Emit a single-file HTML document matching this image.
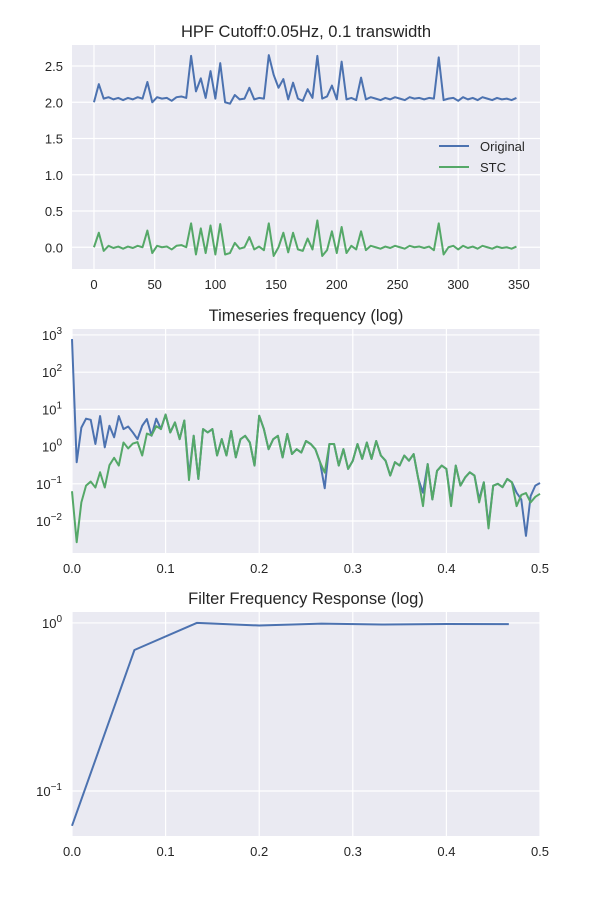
<!DOCTYPE html>
<html><head><meta charset="utf-8"><style>
body{margin:0;background:#fff}
svg{display:block;font-family:"Liberation Sans",sans-serif}
</style></head><body>
<svg id="fig" width="600" height="900" xmlns="http://www.w3.org/2000/svg"></svg>
<script>
// ---- chart 1 data: time series (sample index step 4) ----
const tsStep = 4;
const originalSeries = [2.0,2.25,2.05,2.07,2.04,2.06,2.03,2.06,2.04,2.07,2.05,2.28,2.0,2.07,2.05,2.06,2.02,2.07,2.08,2.06,2.64,2.15,2.33,2.06,2.43,2.05,2.54,2.0,1.98,2.1,2.04,2.05,2.2,2.04,2.06,2.05,2.65,2.38,2.2,2.32,2.04,2.27,2.05,2.02,2.18,2.06,2.64,2.05,2.08,2.23,2.04,2.56,2.04,2.06,2.03,2.34,2.04,2.07,2.05,2.03,2.06,2.04,2.07,2.05,2.03,2.07,2.05,2.06,2.04,2.06,2.05,2.62,2.03,2.05,2.06,2.02,2.07,2.04,2.06,2.03,2.07,2.05,2.03,2.06,2.04,2.05,2.03,2.06];
const stcSeries = [0.0,0.2,-0.05,0.02,-0.01,0.01,-0.02,0.01,-0.01,0.02,0.0,0.23,-0.08,0.02,0.0,0.01,-0.03,0.02,0.03,0.0,0.33,-0.1,0.26,-0.08,0.3,-0.1,0.32,-0.1,-0.08,0.06,-0.02,0.0,0.14,-0.03,0.01,-0.04,0.33,-0.12,0.0,0.2,-0.07,0.2,-0.03,-0.05,0.12,-0.03,0.37,-0.12,-0.04,0.22,-0.08,0.28,-0.08,0.02,-0.03,0.22,-0.04,0.02,0.0,-0.02,0.01,-0.01,0.02,0.0,-0.02,0.02,0.0,0.01,-0.01,0.01,-0.04,0.33,-0.1,0.0,0.02,-0.03,0.02,-0.01,0.01,-0.02,0.02,0.0,-0.02,0.01,-0.01,0.0,-0.02,0.01];
const ts_xticks = [0,50,100,150,200,250,300,350];
const ts_yticks = [0.0,0.5,1.0,1.5,2.0,2.5];
const ts_ytickLabels = ["0.0","0.5","1.0","1.5","2.0","2.5"];
// ---- chart 2 data: frequency spectra (log10 of magnitude), step 0.005 ----
const freqStep = 0.005;
const origSpecLog = [2.89,-0.42,0.51,0.75,0.72,0.07,0.82,-0.02,0.56,0.25,0.82,0.47,0.54,0.38,0.2,0.56,0.74,0.29,0.75,0.47,0.86,0.38,0.65,0.2,0.7,-0.78,0.29,-0.87,0.47,0.38,0.47,-0.24,0.2,-0.24,0.42,-0.29,0.2,0.29,0.11,-0.51,0.83,0.47,-0.07,0.2,0.29,-0.29,0.34,-0.2,-0.07,-0.16,0.15,0.07,-0.07,-0.42,-1.12,0.07,0.07,-0.51,-0.07,-0.6,-0.38,0.07,-0.33,0.11,-0.33,0.15,-0.24,-0.38,-0.78,-0.42,-0.51,-0.24,-0.38,-0.2,-0.87,-1.24,-0.47,-1.42,-0.65,-0.51,-0.6,-1.5,-0.51,-1.05,-0.83,-0.69,-0.78,-1.42,-0.96,-2.13,-1.05,-1.0,-1.09,-0.87,-0.96,-1.24,-1.42,-2.4,-1.33,-1.05,-0.98];
const stcSpecLog = [-1.2,-2.57,-1.5,-1.05,-0.94,-1.1,-0.69,-1.1,-0.5,-0.3,-0.51,0.11,-0.05,0.08,0.12,-0.24,0.35,0.3,0.55,0.47,0.86,0.38,0.65,0.2,0.7,-0.9,0.29,-0.87,0.47,0.38,0.47,-0.24,0.2,-0.24,0.42,-0.29,0.2,0.29,0.11,-0.51,0.83,0.47,-0.07,0.2,0.29,-0.29,0.34,-0.2,-0.07,-0.16,0.15,0.07,-0.07,-0.42,-0.7,0.07,0.07,-0.51,-0.07,-0.6,-0.38,0.07,-0.33,0.11,-0.33,0.15,-0.24,-0.38,-0.78,-0.42,-0.51,-0.24,-0.38,-0.2,-0.87,-1.6,-0.47,-1.42,-0.65,-0.51,-0.6,-1.6,-0.51,-1.05,-0.83,-0.69,-0.78,-1.5,-0.96,-2.2,-1.05,-1.0,-1.09,-0.87,-0.96,-1.6,-1.3,-1.25,-1.5,-1.35,-1.27];
const freq_xticks = [0.0,0.1,0.2,0.3,0.4,0.5];
const spec_ydecades = [-2,-1,0,1,2,3];
// ---- chart 3 data: filter response ----
const respFreqs = [0.0,0.0667,0.1333,0.2,0.2667,0.3333,0.4,0.4667];
const respValues = [0.062,0.69,1.0,0.965,0.99,0.978,0.985,0.983];
const resp_ydecades = [-1,0];

const NS="http://www.w3.org/2000/svg";
const svg=document.getElementById('fig');
function mk(tag,attrs,parent){const e=document.createElementNS(NS,tag);for(const k in attrs)e.setAttribute(k,attrs[k]);(parent||svg).appendChild(e);return e;}
const AX={l:72,r:540};
function lin(d0,d1,p0,p1){return v=>p0+(v-d0)/(d1-d0)*(p1-p0);}

function axes(top,name,title){
  const g=mk('g',{});
  
  
  const bg=mk('rect',{x:AX.l,y:top,width:AX.r-AX.l,height:224,fill:'#EAEAF2'},g);
  
  
  const t=mk('text',{x:306,y:top-8,'text-anchor':'middle','font-size':16.5,fill:'#262626'},g);
  t.textContent=title;
  
  
  return g;
}
function vgrid(g,ticks,sx,top,labelFn,name){
  ticks.forEach(v=>{const x=sx(v);
    mk('line',{x1:x,x2:x,y1:top,y2:top+224,stroke:'#fff','stroke-width':1.2},g);
    const t=mk('text',{x:x,y:top+224+20,'text-anchor':'middle','font-size':13,fill:'#262626'},g);
    t.textContent=labelFn(v);
    
    
  });
}
function hgridLin(g,ticks,labels,sy,name){
  ticks.forEach((v,i)=>{const y=sy(v);
    mk('line',{x1:AX.l,x2:AX.r,y1:y,y2:y,stroke:'#fff','stroke-width':1.2},g);
    const t=mk('text',{x:AX.l-9,y:y+5,'text-anchor':'end','font-size':13,fill:'#262626'},g);
    t.textContent=labels[i];
    
    
  });
}
function hgridLog(g,decs,sy,name){
  decs.forEach(d=>{const y=sy(d);
    mk('line',{x1:AX.l,x2:AX.r,y1:y,y2:y,stroke:'#fff','stroke-width':1.2},g);
    const t=mk('text',{x:AX.l-10,y:y+5,'text-anchor':'end','font-size':13,fill:'#262626'},g);
    const a=mk('tspan',{},t);a.textContent='10';
    const b=mk('tspan',{dy:-6,'font-size':10},t);b.textContent=String(d).replace('-','\u2212');
    
    
  });
}
function line(g,xs,ys,color,name){
  const d=xs.map((x,i)=>(i?'L':'M')+x.toFixed(2)+' '+ys[i].toFixed(2)).join('');
  const p=mk('path',{d:d,fill:'none',stroke:color,'stroke-width':2,'stroke-linejoin':'round'},g);
  
  
}

// Chart 1
{const top=45;const g=axes(top,'timeseries-chart','HPF Cutoff:0.05Hz, 0.1 transwidth');
 const sx=lin(-18.1,367.4,AX.l,AX.r), sy=lin(2.79,-0.30,top,top+224);
 vgrid(g,ts_xticks,sx,top,v=>String(v),'timeseries');
 hgridLin(g,ts_yticks,ts_ytickLabels,sy,'timeseries');
 line(g,originalSeries.map((v,i)=>sx(i*tsStep)),originalSeries.map(sy),'#4C72B0','original-line');
 line(g,stcSeries.map((v,i)=>sx(i*tsStep)),stcSeries.map(sy),'#55A868','stc-line');
 const lg=mk('g',{},g);
 
 
 [['Original','#4C72B0',146],['STC','#55A868',167]].forEach(([n,c,y])=>{
   mk('line',{x1:439,x2:469,y1:y,y2:y,stroke:c,'stroke-width':2},lg);
   const t=mk('text',{x:480,y:y+5,'font-size':13,fill:'#262626'},lg);t.textContent=n;
   
   
 });
}
// Chart 2
{const top=329;const g=axes(top,'spectrum-chart','Timeseries frequency (log)');
 const sx=lin(0,0.5,AX.l,AX.r), sy=lin(3.16,-2.86,top,top+224);
 vgrid(g,freq_xticks,sx,top,v=>v.toFixed(1),'spectrum');
 hgridLog(g,spec_ydecades,sy,'spectrum');
 line(g,origSpecLog.map((v,i)=>sx(i*freqStep)),origSpecLog.map(sy),'#4C72B0','original-spectrum-line');
 line(g,stcSpecLog.map((v,i)=>sx(i*freqStep)),stcSpecLog.map(sy),'#55A868','stc-spectrum-line');
}
// Chart 3
{const top=612;const g=axes(top,'filter-response-chart','Filter Frequency Response (log)');
 const sx=lin(0,0.5,AX.l,AX.r), sy=lin(0.065,-1.268,top,top+224);
 vgrid(g,freq_xticks,sx,top,v=>v.toFixed(1),'response');
 hgridLog(g,resp_ydecades,sy,'response');
 line(g,respFreqs.map(sx),respValues.map(v=>sy(Math.log10(v))),'#4C72B0','filter-response-line');
}
</script>
</body></html>
